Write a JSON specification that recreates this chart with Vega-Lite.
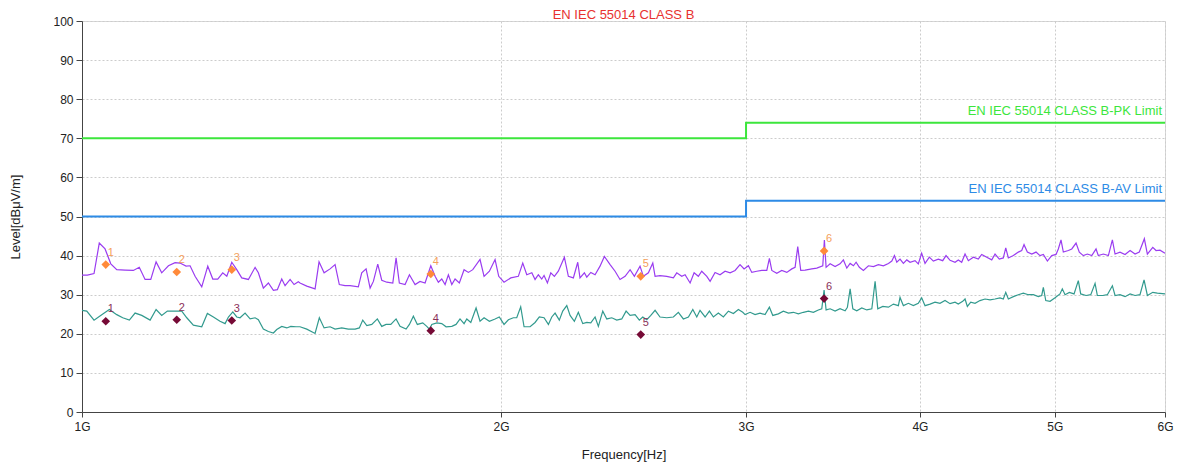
{
  "$schema": "https://vega.github.io/schema/vega-lite/v6.json",
  "autosize": {"type": "none"},
  "padding": {"left": 82, "top": 21, "right": 15, "bottom": 53},
  "width": 1083,
  "height": 391,
  "background": "white",
  "title": {"text": "EN IEC 55014 CLASS B", "color": "#e8312f", "font": "Liberation Sans", "fontSize": 13, "fontWeight": "normal", "anchor": "middle", "offset": -7},
  "config": {
    "view": {"stroke": "#d8d8d8"},
    "axis": {"labelFont": "Liberation Sans", "titleFont": "Liberation Sans", "labelFontSize": 12, "labelColor": "#222", "titleColor": "#222", "titleFontWeight": "normal", "titleFontSize": 13, "domainColor": "#444", "tickColor": "#444", "gridColor": "#cccccc", "gridDash": [2, 2], "labelOverlap": false}
  },
  "datasets": {
    "pk": [
      {"f":1.000,"v":35.0},{"f":1.0089,"v":35.0},{"f":1.0201,"v":35.4},{"f":1.0290,"v":43.2},{"f":1.0389,"v":41.7},{"f":1.0488,"v":37.9},{"f":1.0592,"v":36.4},{"f":1.0739,"v":36.3},{"f":1.0887,"v":36.2},{"f":1.0994,"v":37.0},{"f":1.1100,"v":33.9},{"f":1.1205,"v":33.9},{"f":1.1304,"v":38.4},{"f":1.1410,"v":35.6},{"f":1.1537,"v":37.4},{"f":1.1665,"v":38.2},{"f":1.1760,"v":38.1},{"f":1.1879,"v":37.3},{"f":1.1958,"v":37.4},{"f":1.2057,"v":34.7},{"f":1.2191,"v":32.0},{"f":1.2313,"v":37.3},{"f":1.2416,"v":34.0},{"f":1.2518,"v":34.0},{"f":1.2622,"v":35.6},{"f":1.2707,"v":34.7},{"f":1.2812,"v":38.3},{"f":1.2918,"v":36.4},{"f":1.3025,"v":34.3},{"f":1.3169,"v":33.9},{"f":1.3316,"v":37.0},{"f":1.3388,"v":35.6},{"f":1.3499,"v":31.7},{"f":1.3612,"v":33.0},{"f":1.3725,"v":31.1},{"f":1.3815,"v":31.3},{"f":1.3916,"v":34.0},{"f":1.3993,"v":32.3},{"f":1.4110,"v":33.9},{"f":1.4203,"v":32.6},{"f":1.4303,"v":33.3},{"f":1.4343,"v":33.0},{"f":1.4505,"v":32.2},{"f":1.4705,"v":31.5},{"f":1.4802,"v":38.4},{"f":1.4926,"v":35.6},{"f":1.5075,"v":36.6},{"f":1.5200,"v":37.7},{"f":1.5307,"v":32.6},{"f":1.5453,"v":32.3},{"f":1.5582,"v":32.3},{"f":1.5796,"v":32.0},{"f":1.5885,"v":35.6},{"f":1.6000,"v":36.6},{"f":1.6107,"v":31.7},{"f":1.6194,"v":33.4},{"f":1.6312,"v":37.8},{"f":1.6420,"v":33.7},{"f":1.6558,"v":33.2},{"f":1.6723,"v":33.0},{"f":1.6814,"v":39.4},{"f":1.6905,"v":33.0},{"f":1.7066,"v":32.6},{"f":1.7189,"v":35.1},{"f":1.7351,"v":32.6},{"f":1.7493,"v":33.4},{"f":1.7640,"v":33.0},{"f":1.7808,"v":37.4},{"f":1.7935,"v":34.7},{"f":1.8032,"v":33.2},{"f":1.8134,"v":34.0},{"f":1.8234,"v":32.6},{"f":1.8334,"v":35.1},{"f":1.8438,"v":32.6},{"f":1.8538,"v":34.0},{"f":1.8669,"v":33.0},{"f":1.8816,"v":36.4},{"f":1.8951,"v":35.7},{"f":1.9089,"v":36.4},{"f":1.9319,"v":39.0},{"f":1.9449,"v":34.7},{"f":1.9621,"v":36.0},{"f":1.9806,"v":39.0},{"f":1.9926,"v":34.7},{"f":2.0102,"v":33.2},{"f":2.0328,"v":34.3},{"f":2.0583,"v":34.7},{"f":2.0734,"v":38.1},{"f":2.0873,"v":35.1},{"f":2.1047,"v":35.6},{"f":2.1161,"v":33.9},{"f":2.1276,"v":35.1},{"f":2.1396,"v":34.0},{"f":2.1478,"v":34.9},{"f":2.1597,"v":33.0},{"f":2.1719,"v":35.6},{"f":2.1848,"v":34.7},{"f":2.1991,"v":36.0},{"f":2.2212,"v":39.6},{"f":2.2360,"v":34.7},{"f":2.2545,"v":34.3},{"f":2.2709,"v":38.3},{"f":2.2794,"v":34.3},{"f":2.2959,"v":35.6},{"f":2.3051,"v":34.5},{"f":2.3205,"v":35.7},{"f":2.3370,"v":35.1},{"f":2.3562,"v":37.3},{"f":2.3732,"v":39.8},{"f":2.3958,"v":37.7},{"f":2.4156,"v":36.0},{"f":2.4354,"v":33.9},{"f":2.4559,"v":34.7},{"f":2.4764,"v":36.4},{"f":2.4940,"v":34.7},{"f":2.5174,"v":37.3},{"f":2.5314,"v":34.7},{"f":2.5525,"v":35.6},{"f":2.5711,"v":38.1},{"f":2.5809,"v":34.7},{"f":2.6020,"v":34.9},{"f":2.6313,"v":34.7},{"f":2.6603,"v":34.3},{"f":2.6751,"v":35.6},{"f":2.6973,"v":34.7},{"f":2.7122,"v":35.1},{"f":2.7349,"v":33.0},{"f":2.7530,"v":35.6},{"f":2.7724,"v":34.7},{"f":2.7880,"v":36.0},{"f":2.8114,"v":34.7},{"f":2.8269,"v":33.4},{"f":2.8502,"v":35.7},{"f":2.8736,"v":35.1},{"f":2.8978,"v":36.0},{"f":2.9220,"v":35.6},{"f":2.9461,"v":36.2},{"f":2.9703,"v":37.7},{"f":2.9903,"v":36.6},{"f":3.0118,"v":37.4},{"f":3.0287,"v":35.7},{"f":3.0537,"v":36.0},{"f":3.0790,"v":36.2},{"f":3.1048,"v":36.2},{"f":3.1182,"v":39.3},{"f":3.1306,"v":36.2},{"f":3.1565,"v":35.5},{"f":3.1826,"v":36.2},{"f":3.2093,"v":35.7},{"f":3.2360,"v":36.6},{"f":3.2536,"v":37.0},{"f":3.2680,"v":42.3},{"f":3.2842,"v":36.2},{"f":3.3079,"v":36.3},{"f":3.3449,"v":36.6},{"f":3.3725,"v":36.8},{"f":3.4061,"v":37.4},{"f":3.4152,"v":44.0},{"f":3.4249,"v":37.0},{"f":3.4478,"v":37.9},{"f":3.4763,"v":37.2},{"f":3.5048,"v":37.9},{"f":3.5243,"v":38.9},{"f":3.5443,"v":36.8},{"f":3.5638,"v":38.0},{"f":3.5832,"v":37.4},{"f":3.5991,"v":38.3},{"f":3.6186,"v":37.0},{"f":3.6428,"v":36.2},{"f":3.6733,"v":37.4},{"f":3.7038,"v":37.2},{"f":3.7342,"v":37.7},{"f":3.7654,"v":37.4},{"f":3.7969,"v":38.0},{"f":3.8183,"v":38.6},{"f":3.8347,"v":40.0},{"f":3.8498,"v":38.3},{"f":3.8706,"v":39.1},{"f":3.8920,"v":38.0},{"f":3.9140,"v":38.9},{"f":3.9354,"v":38.3},{"f":3.9678,"v":38.7},{"f":3.9892,"v":37.9},{"f":4.0116,"v":40.6},{"f":4.0339,"v":38.0},{"f":4.0628,"v":39.6},{"f":4.0898,"v":38.6},{"f":4.1234,"v":39.1},{"f":4.1537,"v":38.7},{"f":4.1766,"v":40.0},{"f":4.2045,"v":38.8},{"f":4.2393,"v":38.3},{"f":4.2622,"v":38.9},{"f":4.2862,"v":38.3},{"f":4.3100,"v":40.4},{"f":4.3337,"v":38.7},{"f":4.3696,"v":39.6},{"f":4.4056,"v":39.1},{"f":4.4304,"v":40.3},{"f":4.4676,"v":39.6},{"f":4.5048,"v":38.9},{"f":4.5293,"v":40.4},{"f":4.5613,"v":39.1},{"f":4.5918,"v":39.4},{"f":4.6103,"v":42.0},{"f":4.6302,"v":39.4},{"f":4.6686,"v":40.0},{"f":4.7070,"v":40.9},{"f":4.7336,"v":41.3},{"f":4.7519,"v":42.8},{"f":4.7781,"v":40.9},{"f":4.8131,"v":40.4},{"f":4.8472,"v":40.9},{"f":4.8790,"v":40.0},{"f":4.9061,"v":40.3},{"f":4.9389,"v":38.6},{"f":4.9750,"v":40.0},{"f":5.0103,"v":40.3},{"f":5.0292,"v":41.7},{"f":5.0516,"v":44.0},{"f":5.0711,"v":40.9},{"f":5.1135,"v":41.3},{"f":5.1424,"v":41.7},{"f":5.1789,"v":43.2},{"f":5.2069,"v":40.9},{"f":5.2417,"v":40.0},{"f":5.2768,"v":40.4},{"f":5.3154,"v":40.0},{"f":5.3531,"v":41.7},{"f":5.3733,"v":40.0},{"f":5.4181,"v":40.4},{"f":5.4634,"v":40.0},{"f":5.4997,"v":44.0},{"f":5.5242,"v":40.4},{"f":5.5695,"v":40.9},{"f":5.6164,"v":40.3},{"f":5.6632,"v":41.3},{"f":5.7101,"v":40.4},{"f":5.7503,"v":40.9},{"f":5.7985,"v":44.3},{"f":5.8276,"v":40.4},{"f":5.8799,"v":42.1},{"f":5.9119,"v":41.3},{"f":5.9506,"v":41.4},{"f":6.0,"v":40.6}
    ],
    "av": [
      {"f":1.000,"v":26.0},{"f":1.0079,"v":25.8},{"f":1.0201,"v":23.5},{"f":1.0332,"v":24.9},{"f":1.0463,"v":26.2},{"f":1.0592,"v":24.9},{"f":1.0697,"v":24.1},{"f":1.0815,"v":23.5},{"f":1.0918,"v":25.3},{"f":1.1039,"v":24.7},{"f":1.1193,"v":23.5},{"f":1.1304,"v":26.2},{"f":1.1410,"v":24.7},{"f":1.1517,"v":25.8},{"f":1.1665,"v":25.8},{"f":1.1794,"v":25.8},{"f":1.1893,"v":24.1},{"f":1.2023,"v":22.2},{"f":1.2191,"v":21.8},{"f":1.2305,"v":25.2},{"f":1.2428,"v":24.3},{"f":1.2565,"v":23.2},{"f":1.2671,"v":22.6},{"f":1.2741,"v":24.3},{"f":1.2834,"v":25.6},{"f":1.2918,"v":24.3},{"f":1.2988,"v":24.1},{"f":1.3097,"v":25.3},{"f":1.3207,"v":23.8},{"f":1.3316,"v":24.1},{"f":1.3388,"v":23.6},{"f":1.3499,"v":21.2},{"f":1.3612,"v":20.6},{"f":1.3725,"v":20.2},{"f":1.3802,"v":21.1},{"f":1.3916,"v":21.9},{"f":1.4032,"v":21.5},{"f":1.4126,"v":21.9},{"f":1.4250,"v":21.8},{"f":1.4343,"v":21.8},{"f":1.4505,"v":21.2},{"f":1.4705,"v":20.1},{"f":1.4809,"v":24.1},{"f":1.4926,"v":21.5},{"f":1.5075,"v":21.8},{"f":1.5200,"v":21.2},{"f":1.5368,"v":21.5},{"f":1.5538,"v":21.2},{"f":1.5711,"v":21.2},{"f":1.5822,"v":21.5},{"f":1.5912,"v":23.5},{"f":1.6019,"v":22.1},{"f":1.6152,"v":22.4},{"f":1.6301,"v":23.8},{"f":1.6420,"v":21.9},{"f":1.6538,"v":22.4},{"f":1.6668,"v":22.4},{"f":1.6814,"v":23.8},{"f":1.6924,"v":21.9},{"f":1.7095,"v":21.2},{"f":1.7189,"v":22.4},{"f":1.7302,"v":24.5},{"f":1.7416,"v":22.4},{"f":1.7573,"v":22.8},{"f":1.7690,"v":21.9},{"f":1.7767,"v":21.2},{"f":1.7838,"v":22.4},{"f":1.7985,"v":22.8},{"f":1.8134,"v":22.6},{"f":1.8264,"v":21.8},{"f":1.8438,"v":21.9},{"f":1.8568,"v":22.4},{"f":1.8690,"v":23.8},{"f":1.8816,"v":22.6},{"f":1.8901,"v":23.8},{"f":1.9027,"v":22.9},{"f":1.9193,"v":26.6},{"f":1.9319,"v":23.2},{"f":1.9449,"v":24.1},{"f":1.9621,"v":23.2},{"f":1.9806,"v":23.8},{"f":1.9945,"v":24.3},{"f":2.0102,"v":22.4},{"f":2.0247,"v":23.6},{"f":2.0415,"v":24.1},{"f":2.0529,"v":24.1},{"f":2.0664,"v":26.9},{"f":2.0779,"v":21.8},{"f":2.0988,"v":21.8},{"f":2.1161,"v":22.9},{"f":2.1311,"v":24.3},{"f":2.1478,"v":24.1},{"f":2.1633,"v":22.4},{"f":2.1754,"v":24.3},{"f":2.1873,"v":25.3},{"f":2.2027,"v":23.5},{"f":2.2152,"v":25.8},{"f":2.2301,"v":27.2},{"f":2.2423,"v":24.7},{"f":2.2583,"v":23.2},{"f":2.2731,"v":25.5},{"f":2.2898,"v":22.6},{"f":2.3051,"v":22.9},{"f":2.3205,"v":22.8},{"f":2.3370,"v":24.3},{"f":2.3497,"v":21.9},{"f":2.3669,"v":25.8},{"f":2.3827,"v":23.8},{"f":2.4025,"v":24.1},{"f":2.4223,"v":23.5},{"f":2.4424,"v":23.8},{"f":2.4600,"v":25.8},{"f":2.4764,"v":24.7},{"f":2.4969,"v":24.9},{"f":2.5145,"v":23.5},{"f":2.5288,"v":24.3},{"f":2.5457,"v":23.6},{"f":2.5627,"v":24.7},{"f":2.5809,"v":26.0},{"f":2.6020,"v":24.3},{"f":2.6313,"v":24.1},{"f":2.6603,"v":24.3},{"f":2.6822,"v":25.5},{"f":2.7045,"v":23.8},{"f":2.7272,"v":24.3},{"f":2.7471,"v":26.2},{"f":2.7652,"v":24.3},{"f":2.7801,"v":26.0},{"f":2.8035,"v":24.3},{"f":2.8236,"v":25.8},{"f":2.8423,"v":24.3},{"f":2.8657,"v":25.3},{"f":2.8896,"v":24.3},{"f":2.9137,"v":25.8},{"f":2.9379,"v":25.2},{"f":2.9621,"v":26.2},{"f":2.9838,"v":25.5},{"f":2.9953,"v":24.9},{"f":3.0203,"v":25.5},{"f":3.0452,"v":24.9},{"f":3.0702,"v":25.3},{"f":3.0960,"v":24.9},{"f":3.1182,"v":26.8},{"f":3.1358,"v":24.7},{"f":3.1647,"v":25.1},{"f":3.1911,"v":25.8},{"f":3.2178,"v":25.3},{"f":3.2445,"v":25.5},{"f":3.2712,"v":25.1},{"f":3.2985,"v":25.5},{"f":3.3261,"v":25.8},{"f":3.3537,"v":25.5},{"f":3.3813,"v":26.1},{"f":3.4004,"v":26.4},{"f":3.4135,"v":31.2},{"f":3.4249,"v":26.1},{"f":3.4478,"v":26.4},{"f":3.4763,"v":25.8},{"f":3.5048,"v":26.4},{"f":3.5343,"v":25.9},{"f":3.5478,"v":26.8},{"f":3.5638,"v":31.5},{"f":3.5797,"v":26.4},{"f":3.6032,"v":25.9},{"f":3.6331,"v":26.6},{"f":3.6635,"v":26.1},{"f":3.6940,"v":26.4},{"f":3.7141,"v":33.4},{"f":3.7306,"v":26.4},{"f":3.7616,"v":27.0},{"f":3.7969,"v":26.8},{"f":3.8284,"v":27.6},{"f":3.8599,"v":27.2},{"f":3.8706,"v":29.3},{"f":3.8920,"v":27.2},{"f":3.9244,"v":27.8},{"f":3.9568,"v":27.2},{"f":3.9892,"v":27.8},{"f":4.0116,"v":29.2},{"f":4.0339,"v":27.2},{"f":4.0676,"v":27.6},{"f":4.1012,"v":28.1},{"f":4.1349,"v":27.8},{"f":4.1697,"v":28.5},{"f":4.2045,"v":27.7},{"f":4.2393,"v":28.1},{"f":4.2622,"v":27.6},{"f":4.2934,"v":28.3},{"f":4.3100,"v":28.9},{"f":4.3265,"v":27.0},{"f":4.3509,"v":28.1},{"f":4.3819,"v":27.8},{"f":4.4178,"v":28.5},{"f":4.4550,"v":28.9},{"f":4.4922,"v":28.7},{"f":4.5293,"v":28.9},{"f":4.5665,"v":29.2},{"f":4.5918,"v":28.9},{"f":4.6103,"v":30.6},{"f":4.6302,"v":28.9},{"f":4.6686,"v":29.5},{"f":4.7070,"v":30.0},{"f":4.7463,"v":30.4},{"f":4.7860,"v":30.0},{"f":4.8258,"v":30.0},{"f":4.8655,"v":29.5},{"f":4.8929,"v":29.8},{"f":4.9061,"v":31.9},{"f":4.9258,"v":28.5},{"f":4.9611,"v":28.3},{"f":5.0021,"v":29.2},{"f":5.0431,"v":30.2},{"f":5.0626,"v":31.5},{"f":5.0855,"v":30.0},{"f":5.1220,"v":30.6},{"f":5.1619,"v":30.2},{"f":5.1984,"v":33.6},{"f":5.2189,"v":30.2},{"f":5.2654,"v":29.8},{"f":5.3066,"v":30.0},{"f":5.3444,"v":32.9},{"f":5.3645,"v":29.8},{"f":5.4127,"v":29.8},{"f":5.4544,"v":30.0},{"f":5.4997,"v":32.3},{"f":5.5242,"v":29.8},{"f":5.5695,"v":30.0},{"f":5.6164,"v":29.5},{"f":5.6632,"v":30.2},{"f":5.7101,"v":29.8},{"f":5.7569,"v":30.0},{"f":5.7956,"v":33.8},{"f":5.8276,"v":29.8},{"f":5.8799,"v":30.6},{"f":5.9245,"v":30.4},{"f":6.0,"v":30.2}
    ],
    "limits": [
      {"s":"PK","o":1,"f":1,"v":70,"label":""},{"s":"PK","o":2,"f":3,"v":70,"label":""},{"s":"PK","o":3,"f":3,"v":74,"label":""},{"s":"PK","o":4,"f":6,"v":74,"label":"EN IEC 55014 CLASS B-PK Limit"},
      {"s":"AV","o":1,"f":1,"v":50,"label":""},{"s":"AV","o":2,"f":3,"v":50,"label":""},{"s":"AV","o":3,"f":3,"v":54,"label":""},{"s":"AV","o":4,"f":6,"v":54,"label":"EN IEC 55014 CLASS B-AV Limit"}
    ],
    "mpk": [
      {"n":"1","f":1.0401,"v":37.7},
      {"n":"2","f":1.1697,"v":35.8},
      {"n":"3","f":1.2812,"v":36.4},
      {"n":"4","f":1.7808,"v":35.3},
      {"n":"5","f":2.5204,"v":34.7},
      {"n":"6","f":3.4135,"v":41.2}
    ],
    "mav": [
      {"n":"1","f":1.0401,"v":23.2},
      {"n":"2","f":1.1697,"v":23.6},
      {"n":"3","f":1.2812,"v":23.4},
      {"n":"4","f":1.7808,"v":20.8},
      {"n":"5","f":2.5204,"v":19.8},
      {"n":"6","f":3.4135,"v":29.0}
    ]
  },
  "encoding": {
    "x": {"field": "f", "type": "quantitative", "scale": {"type": "log", "domain": [1, 6], "nice": false},
      "axis": {"values": [1, 2, 3, 4, 5, 6], "labelExpr": "datum.value + 'G'", "title": "Frequency[Hz]", "tickSize": 5, "labelPadding": 4, "labelFlush": false, "titlePadding": 16}},
    "y": {"field": "v", "type": "quantitative", "scale": {"domain": [0, 100], "nice": false},
      "axis": {"values": [0, 10, 20, 30, 40, 50, 60, 70, 80, 90, 100], "title": "Level[dBμV/m]", "tickSize": 6, "labelPadding": 3, "titlePadding": 30}}
  },
  "layer": [
    {
      "data": {"name": "limits"},
      "mark": {"type": "line", "strokeWidth": 2, "interpolate": "linear"},
      "encoding": {
        "color": {"field": "s", "type": "nominal", "scale": {"domain": ["PK", "AV"], "range": ["#3ce63c", "#2d8be6"]}, "legend": null},
        "order": {"field": "o"}
      }
    },
    {
      "data": {"name": "limits"},
      "transform": [{"filter": "datum.label != ''"}],
      "mark": {"type": "text", "align": "right", "baseline": "middle", "dx": -3, "dy": -12, "font": "Liberation Sans", "fontSize": 13},
      "encoding": {
        "text": {"field": "label"},
        "color": {"field": "s", "type": "nominal", "scale": {"domain": ["PK", "AV"], "range": ["#3ce63c", "#2d8be6"]}, "legend": null}
      }
    },
    {
      "data": {"name": "av"},
      "mark": {"type": "line", "color": "#329a8e", "strokeWidth": 1.2}
    },
    {
      "data": {"name": "pk"},
      "mark": {"type": "line", "color": "#9a3cf0", "strokeWidth": 1.2}
    },
    {
      "data": {"name": "mpk"},
      "mark": {"type": "point", "shape": "diamond", "filled": true, "size": 75, "color": "#ff8a3a", "opacity": 1}
    },
    {
      "data": {"name": "mav"},
      "mark": {"type": "point", "shape": "diamond", "filled": true, "size": 75, "color": "#760a36", "opacity": 1}
    },
    {
      "data": {"name": "mpk"},
      "mark": {"type": "text", "align": "center", "baseline": "middle", "dx": 5, "dy": -12, "font": "Liberation Sans", "fontSize": 11, "color": "#f4a05a"},
      "encoding": {"text": {"field": "n"}}
    },
    {
      "data": {"name": "mav"},
      "mark": {"type": "text", "align": "center", "baseline": "middle", "dx": 5, "dy": -12, "font": "Liberation Sans", "fontSize": 11, "color": "#8a3058"},
      "encoding": {"text": {"field": "n"}}
    }
  ]
}
